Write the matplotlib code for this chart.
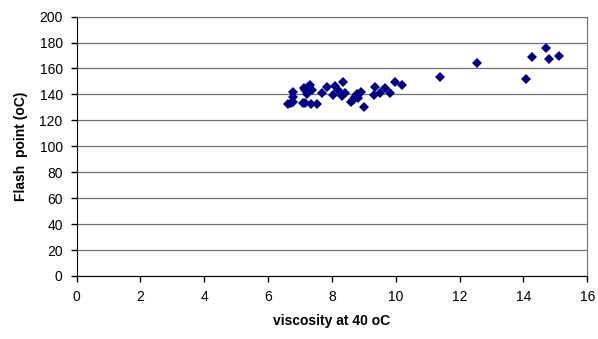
import matplotlib
matplotlib.use("Agg")
import matplotlib.pyplot as plt

plt.rcParams['font.family'] = ['Liberation Sans', 'DejaVu Sans']

# viscosity at 40 oC vs flash point (oC)
viscosity = [6.77, 6.79, 6.71, 6.64, 6.79, 7.16, 7.33, 7.53, 7.16, 7.32,
             7.37, 7.23, 7.68, 7.84, 8.05, 8.10, 8.20, 8.36, 8.31, 8.41,
             8.67, 8.78, 8.83, 9.01, 8.90, 9.35, 9.32, 9.51, 9.67, 9.82,
             9.98, 10.19, 7.13, 7.26, 7.10, 8.72, 8.60,
             11.39, 12.54, 14.07, 14.28, 14.72, 14.80, 15.13]
flash_point = [142.2, 137.8, 133.2, 132.4, 134.4, 133.2, 132.4, 132.4, 143.5, 147.3,
               143.5, 140.4, 140.9, 146.0, 139.6, 146.5, 143.5, 149.9, 138.8, 140.9,
               135.7, 140.4, 137.1, 130.1, 142.2, 146.0, 139.6, 140.9, 144.8, 140.9,
               149.9, 147.3, 145.2, 146.0, 133.2, 138.0, 134.0,
               153.7, 164.0, 151.7, 169.2, 176.1, 167.6, 169.9]

x_ticks = list(range(0, 17, 2))
y_ticks = list(range(0, 201, 20))

fig = plt.figure(figsize=(5.98, 3.39), dpi=100)
ax = fig.add_axes([0.128, 0.186, 0.854, 0.765])

ax.plot(viscosity, flash_point, linestyle='none', marker='D', markersize=5,
        color='#000080', markeredgewidth=0)

ax.set_xlim(0, 16)
ax.set_ylim(0, 200)
ax.set_xticks(x_ticks)
ax.set_yticks(y_ticks)
ax.yaxis.grid(True, color='#707070', linewidth=0.9)
ax.set_axisbelow(True)

for s in ['top', 'right']:
    ax.spines[s].set_color('#707070')
for s in ['left', 'bottom']:
    ax.spines[s].set_color('black')

ax.tick_params(direction='out', length=4, width=1, labelsize=10, pad=6)

ax.set_xlabel('viscosity at 40 oC', fontsize=10, fontweight='bold', labelpad=7)
ax.set_ylabel('Flash  point (oC)', fontsize=10, fontweight='bold', labelpad=8)

fig.savefig('out.png', dpi=100)
